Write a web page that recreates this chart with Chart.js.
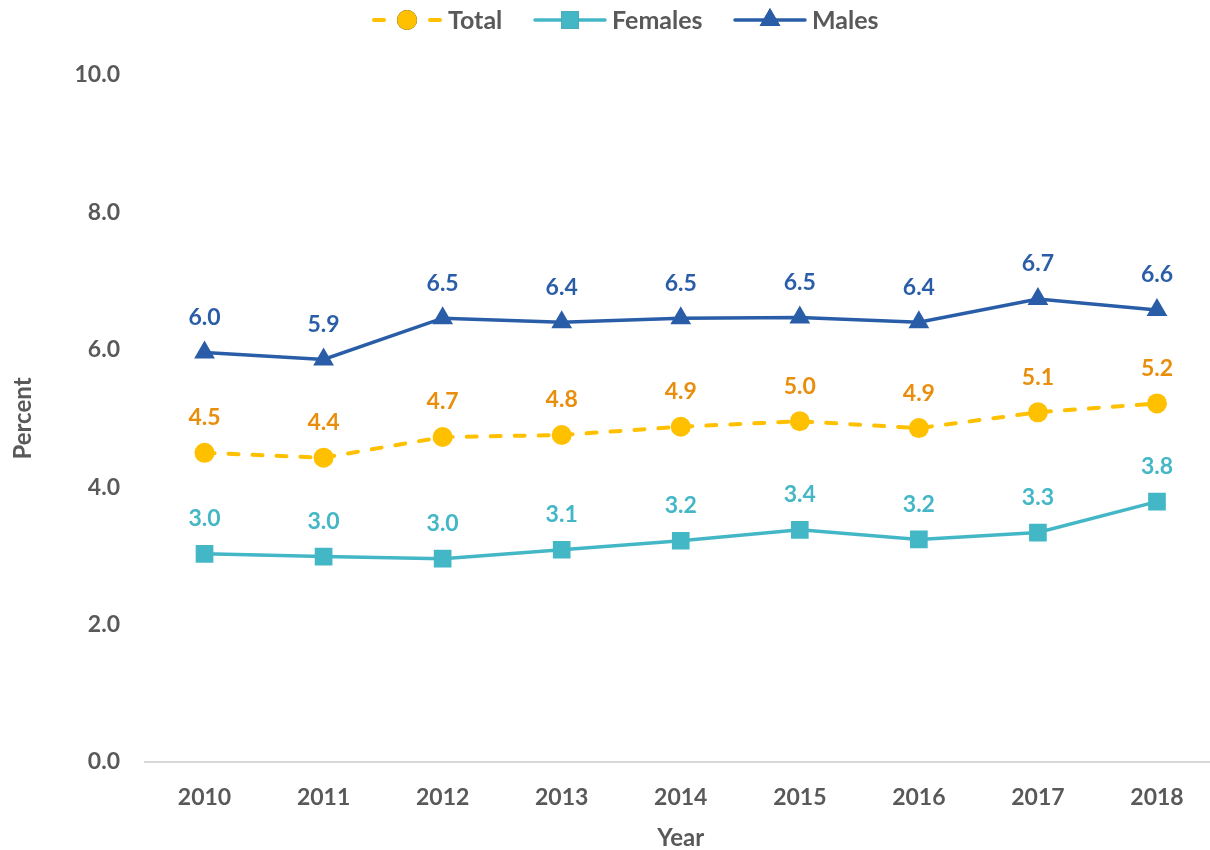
<!DOCTYPE html>
<html>
<head>
<meta charset="utf-8">
<script src="https://cdn.jsdelivr.net/npm/chart.js@4/dist/chart.umd.min.js"></script>
<style>
  html, body { margin: 0; padding: 0; background: #fff; overflow: hidden; }
  #wrap { width: 1210px; height: 850px; position: relative; overflow: hidden; }
</style>
</head>
<body>
<div id="wrap"><canvas id="c" width="1229" height="850"></canvas></div>
<script>
const years = ['2010','2011','2012','2013','2014','2015','2016','2017','2018'];
const totalValues   = [4.50, 4.43, 4.73, 4.76, 4.88, 4.96, 4.86, 5.09, 5.22];
const femalesValues = [3.03, 2.99, 2.96, 3.09, 3.22, 3.38, 3.24, 3.34, 3.79];
const malesValues   = [5.96, 5.86, 6.46, 6.40, 6.46, 6.47, 6.40, 6.74, 6.58];
const yTicks = [0, 2, 4, 6, 8, 10];

const FONT = 'Lato, "Open Sans", sans-serif';
const GRAY = '#595959';

const labelPlugin = {
  id: 'pointLabels',
  afterDatasetsDraw(chart) {
    const ctx = chart.ctx;
    ctx.save();
    ctx.font = 'bold 23px ' + FONT;
    ctx.textAlign = 'center';
    ctx.textBaseline = 'middle';
    chart.data.datasets.forEach((ds, i) => {
      const meta = chart.getDatasetMeta(i);
      ctx.fillStyle = ds.labelColor;
      meta.data.forEach((pt, j) => {
        ctx.fillText(ds.data[j].toFixed(1), pt.x, pt.y - 35);
      });
    });
    ctx.restore();
  }
};

const legendPlugin = {
  id: 'customLegend',
  afterDraw(chart) {
    const ctx = chart.ctx;
    const items = [
      { ds: 0, x0: 372, x1: 442, tx: 448 },
      { ds: 1, x0: 535, x1: 605, tx: 612 },
      { ds: 2, x0: 735, x1: 805, tx: 812 }
    ];
    const y = 20;
    ctx.save();
    items.forEach(it => {
      const ds = chart.data.datasets[it.ds];
      ctx.strokeStyle = ds.borderColor;
      ctx.lineWidth = ds.borderWidth;
      ctx.lineCap = 'round';
      ctx.beginPath();
      if (ds.borderDash) {
        ctx.moveTo(it.x0 + 2, y); ctx.lineTo(it.x0 + 12, y);
        ctx.moveTo(it.x1 - 12, y); ctx.lineTo(it.x1 - 2, y);
      } else {
        ctx.moveTo(it.x0, y); ctx.lineTo(it.x1, y);
      }
      ctx.stroke();
      Chart.helpers.drawPoint(ctx, {
        pointStyle: ds.pointStyle, radius: ds.pointRadius, borderWidth: 0
      }, (it.x0 + it.x1) / 2, y);
      ctx.fillStyle = ds.backgroundColor;
      ctx.fill();
      ctx.font = 'bold 25px ' + FONT;
      ctx.fillStyle = GRAY;
      ctx.textAlign = 'left';
      ctx.textBaseline = 'middle';
      ctx.fillText(ds.label, it.tx, y + 1);
    });
    ctx.restore();
  }
};

new Chart(document.getElementById('c'), {
  type: 'line',
  data: {
    labels: years,
    datasets: [
      {
        label: 'Total', data: totalValues,
        borderColor: '#FFC000', backgroundColor: '#FFC000', labelColor: '#E98E0C',
        borderWidth: 4, borderDash: [10, 14], borderCapStyle: 'round',
        pointStyle: 'circle', pointRadius: 10, pointBorderWidth: 0, pointHoverRadius: 10
      },
      {
        label: 'Females', data: femalesValues,
        borderColor: '#44B7C6', backgroundColor: '#44B7C6', labelColor: '#44B7C6',
        borderWidth: 3.5,
        pointStyle: 'rect', pointRadius: 12.5, pointBorderWidth: 0, pointHoverRadius: 12.5
      },
      {
        label: 'Males', data: malesValues,
        borderColor: '#2A5DA8', backgroundColor: '#2A5DA8', labelColor: '#2A5DA8',
        borderWidth: 3.5,
        pointStyle: 'triangle', pointRadius: 12, pointBorderWidth: 0, pointHoverRadius: 12
      }
    ]
  },
  options: {
    responsive: false,
    animation: false,
    layout: { padding: { top: 75, right: 0, bottom: 0, left: 0 } },
    plugins: { legend: { display: false }, tooltip: { enabled: false } },
    scales: {
      x: {
        offset: true,
        grid: { display: false, drawTicks: false, offset: true },
        border: { display: true, color: '#D9D9D9', width: 2 },
        ticks: { color: GRAY, font: { family: FONT, size: 23, weight: 'bold' }, padding: 22 },
        title: { display: true, text: 'Year', color: GRAY, font: { family: FONT, size: 24, weight: 'bold' }, padding: { top: 8, bottom: -3 } },
        afterFit(scale) { scale.height = 88; scale.paddingRight = 0; scale.paddingLeft = 0; }
      },
      y: {
        min: 0, max: 10,
        afterBuildTicks(scale) { scale.ticks = yTicks.map(v => ({ value: v })); },
        grid: { display: false, drawTicks: false },
        border: { display: false },
        ticks: {
          color: GRAY, font: { family: FONT, size: 23, weight: 'bold' }, padding: 25,
          callback: v => Number(v).toFixed(1)
        },
        title: { display: true, text: 'Percent', color: GRAY, font: { family: FONT, size: 24, weight: 'bold' }, padding: { top: 9, bottom: 0 } },
        afterFit(scale) { scale.width = 145; }
      }
    }
  },
  plugins: [labelPlugin, legendPlugin]
});
</script>
</body>
</html>
